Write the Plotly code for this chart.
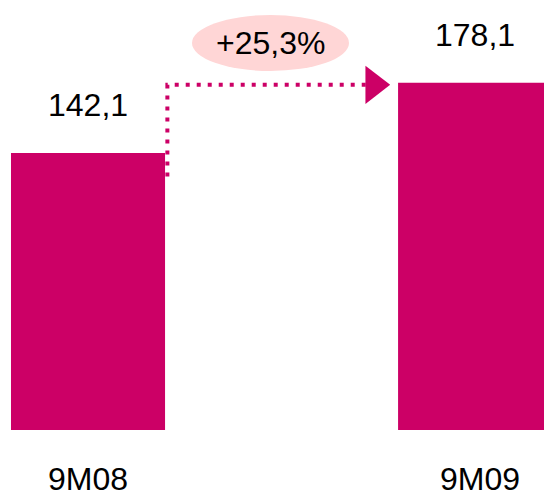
import plotly.graph_objects as go

categories = ["9M08", "9M09"]
values = [142.1, 178.1]
value_labels = ["142,1", "178,1"]
growth_label = "+25,3%"

MAGENTA = "#CC0066"
PINK = "#FFD6D6"
FONT = "Liberation Sans"
BAR_W = 0.398

pos = list(range(len(categories)))

fig = go.Figure()
fig.add_trace(go.Bar(
    x=pos, y=values, width=BAR_W,
    marker=dict(color=MAGENTA, line=dict(width=0)),
    hoverinfo="skip",
))

# dotted connector from first bar to second bar
x_start = pos[0] + BAR_W / 2 + 0.006
fig.add_trace(go.Scatter(
    x=[x_start, x_start, 0.725],
    y=[130, 177, 177],
    mode="lines",
    line=dict(color=MAGENTA, width=4, dash="4px,7px"),
    hoverinfo="skip",
))
fig.add_trace(go.Scatter(
    x=[0.738], y=[177],
    mode="markers",
    marker=dict(symbol="triangle-right", size=33, color=MAGENTA, line=dict(width=0)),
    hoverinfo="skip",
))

annotations = []
for p, v, t in zip(pos, values, value_labels):
    annotations.append(dict(x=p, y=v, text=t, showarrow=False, yanchor="middle",
                            yshift=48, font=dict(family=FONT, size=32, color="black")))
for p, c, dx in zip(pos, categories, [0, 5]):
    annotations.append(dict(x=p, y=0, text=c, showarrow=False, yanchor="middle",
                            yshift=-49, xshift=dx, font=dict(family=FONT, size=32, color="black")))
annotations.append(dict(x=270 / 544, y=1 - 43 / 496, xref="paper", yref="paper",
                        xanchor="center", yanchor="middle",
                        text=growth_label, showarrow=False,
                        font=dict(family=FONT, size=32, color="black")))

fig.update_layout(
    width=544, height=496,
    margin=dict(l=0, r=0, t=0, b=0),
    paper_bgcolor="white", plot_bgcolor="white",
    showlegend=False,
    xaxis=dict(range=[-0.2274, 1.178], visible=False),
    yaxis=dict(range=[-33.85, 220.5], visible=False),
    annotations=annotations,
    shapes=[dict(type="circle", xref="paper", yref="paper",
                 x0=192 / 544, x1=349 / 544, y0=1 - 71 / 496, y1=1 - 15 / 496,
                 fillcolor=PINK, line=dict(width=0), layer="below")],
)

fig.write_html("out.html", config={"displayModeBar": False},
               post_script="document.body.style.margin='0px';")
